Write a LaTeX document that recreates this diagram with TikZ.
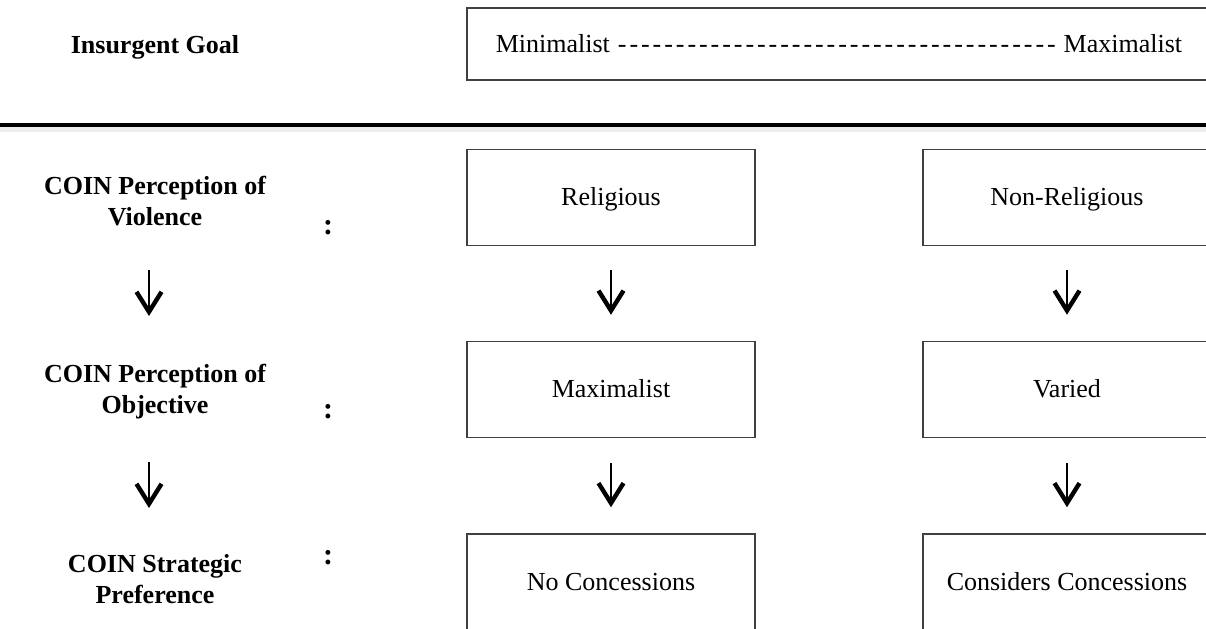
\documentclass[tikz,border=0pt]{standalone}
\usepackage{fontspec}
\setmainfont{Liberation Serif}
\usetikzlibrary{arrows.meta}

\newcommand{\diafont}{\fontsize{13pt}{15.5pt}\selectfont}
\newcommand{\dashrun}{\foreach \d in {1,...,38}{\makebox[5.8pt]{-}}}

\tikzset{
    optbox/.style={draw=black!75, line width=0.75pt, minimum width=144pt,
        minimum height=48pt, inner sep=0pt, text height=10pt, text depth=2pt},
    rowlabel/.style={font=\diafont\bfseries, align=center, anchor=base},
    flow/.style={line width=0.8pt,
        -{Straight Barb[length=10pt,width=12.5pt,line width=2.2pt]}},
}

\begin{document}
\begin{tikzpicture}[x=0.5pt, y=-0.5pt, font=\diafont]
    \useasboundingbox (0,0) rectangle (1206,628);
    \clip (0,0) rectangle (1206,628);
    % 上段：目標の幅
    \node[rowlabel] (goal) at (155,53) {Insurgent Goal};
    \node[optbox, minimum width=372pt, minimum height=36pt] (range) at (839,44)
        {Minimalist \dashrun{} Maximalist};
    % 区切り線
    \draw[black!7, line width=3pt] (0,129) -- (1206,129);
    \draw[black, line width=2pt] (0,125) -- (1206,125);
    % 行の見出し（base は最終行）
    \node[rowlabel] (viol) at (155,225) {COIN Perception of\\Violence};
    \node[rowlabel] (obj) at (155,413) {COIN Perception of\\Objective};
    \node[rowlabel] (strat) at (155,603) {COIN Strategic\\Preference};
    \foreach \cy [count=\i] in {227.5,412,557.5}
        \node[font=\fontsize{15pt}{18pt}\selectfont\bfseries] (colon\i) at (328,\cy) {:};
    % 二つの列
    \node[optbox] (rel) at (611,197.5) {Religious};
    \node[optbox] (nonrel) at (1067,197.5) {Non-Religious};
    \node[optbox] (max) at (611,389.5) {Maximalist};
    \node[optbox] (var) at (1067,389.5) {Varied};
    \node[optbox] (nocon) at (611,582) {No Concessions};
    \node[optbox] (con) at (1067,582) {Considers Concessions};
    % 矢印
    \draw[flow, shorten <=12pt, shorten >=13pt] (rel) -- (max);
    \draw[flow, shorten <=12.5pt, shorten >=13pt] (max) -- (nocon);
    \draw[flow, shorten <=12pt, shorten >=13pt] (nonrel) -- (var);
    \draw[flow, shorten <=12.5pt, shorten >=13pt] (var) -- (con);
    \foreach \ay [count=\i] in {270,462} {
        \coordinate (ls\i) at (149,\ay);
        \coordinate (le\i) at (149,{\ay+46});
        \draw[flow] (ls\i) -- (le\i);
    }
\end{tikzpicture}
\end{document}
